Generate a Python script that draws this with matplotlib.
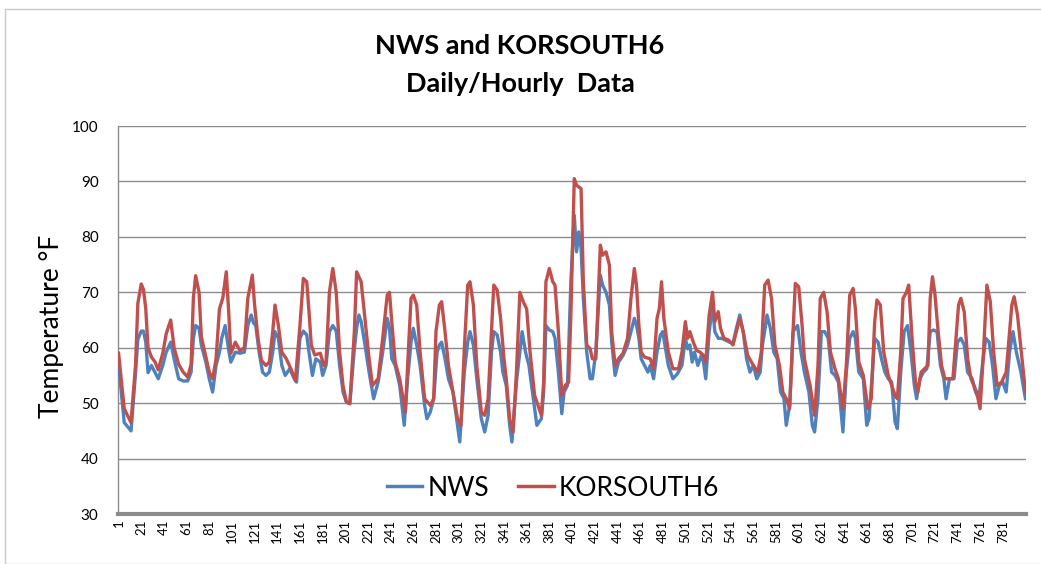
import matplotlib
matplotlib.use("Agg")
import matplotlib.pyplot as plt
from matplotlib.patches import Rectangle

# ---------------- data ----------------
n_categories = 801
tick_labels = [str(v) for v in range(1, 782, 20)]
y_ticks = [30, 40, 50, 60, 70, 80, 90, 100]

kor_hours = [1, 6, 12, 16, 18, 21, 23, 25, 27, 30, 33, 36, 40, 43, 47, 50, 54, 58, 62, 65,
             67, 69, 72, 74, 78, 81, 84, 87, 90, 93, 96, 98, 100, 104, 108, 112,
             115, 119, 121, 124, 127, 131, 134, 137, 139, 142, 145, 149, 153, 157, 161, 164,
             167, 169, 171, 174, 179, 182, 184, 187, 190, 193, 196, 199, 202, 205, 209, 211,
             215, 218, 222, 225, 230, 234, 238, 240, 242, 245, 249, 254, 256, 259, 261, 264,
             267, 271, 276, 279, 281, 284, 286, 289, 292, 296, 300, 303, 306, 309, 311, 314,
             317, 321, 324, 327, 330, 332, 335, 338, 341, 343, 346, 349, 352, 355, 358, 361,
             364, 368, 371, 374, 376, 378, 381, 384, 386, 389, 392, 395, 398, 400, 403, 405,
             409, 411, 414, 417, 419, 422, 426, 428, 431, 434, 436, 439, 442, 446, 450, 453,
             456, 458, 460, 462, 465, 470, 473, 476, 478, 480, 482, 486, 490, 495, 498, 501,
             503, 505, 508, 511, 514, 517, 519, 522, 525, 527, 530, 532, 535, 539, 543, 546,
             549, 552, 556, 561, 565, 568, 571, 574, 577, 580, 584, 587, 590, 593, 596, 598,
             601, 604, 606, 611, 615, 618, 620, 623, 626, 629, 633, 636, 640, 643, 646, 649,
             651, 654, 658, 662, 665, 668, 670, 673, 676, 680, 683, 686, 688, 691, 693, 696,
             698, 701, 704, 706, 709, 712, 715, 717, 719, 721, 724, 727, 730, 733, 737, 742,
             744, 747, 750, 753, 758, 761, 764, 767, 770, 773, 776, 780, 784, 789, 791, 794,
             798, 801]
kor_temps = [59, 49, 46.5, 57, 68, 71.5, 70.5, 67, 60, 58.3, 57.5, 56, 59, 62.5, 65, 60, 57, 55.6, 54.7, 57,
             69, 73, 70, 62, 58.3, 55.6, 54.4, 58, 67, 69, 73.7, 67, 59, 61, 59.5, 60,
             68.9, 73.1, 67.7, 61.7, 57.7, 56.8, 57.4, 62.9, 67.7, 64, 59.2, 58, 56.2, 54.1, 64, 72.5,
             71.9, 66.5, 60.5, 58.7, 59, 56.8, 57.4, 70, 74.3, 70, 59.2, 53.2, 50.2, 49.9, 62.9, 73.7,
             71.9, 65.9, 58, 53.2, 54.4, 61.7, 69.5, 70, 64.7, 57.4, 54.4, 48.4, 56.8, 68.9, 69.5, 67.7,
             59.2, 50.8, 49.6, 50.8, 62.9, 67.7, 68.3, 62.9, 56.8, 52, 47.2, 46, 59.8, 71.3, 71.9, 67.7,
             56.8, 48.4, 47.8, 50.8, 62.9, 71.3, 70.4, 65.3, 58, 54.4, 47.2, 44.8, 55.6, 70, 68.3, 67,
             59.2, 51.4, 49.6, 47.8, 53.8, 71.9, 74.3, 71.9, 71.3, 62.9, 51.4, 53.2, 53.8, 65.9, 90.5, 89.3,
             88.7, 71.9, 60.5, 59.8, 58, 58, 78.5, 76.7, 77.3, 74.9, 62.9, 56.8, 58, 59, 61.7, 68.9,
             74.3, 71, 64, 59.2, 58.3, 58, 56.2, 65.3, 67, 71.9, 65.3, 59.2, 56.2, 56.2, 59.2, 64.7,
             61.7, 62.9, 61, 59.5, 59.2, 58.6, 57.4, 65.9, 70, 64.7, 66.5, 63.5, 61.7, 61.4, 60.5, 62.9,
             65.3, 62.9, 58.6, 56.8, 55.6, 59.2, 71.3, 72.2, 68.9, 60.5, 56.8, 52, 50.8, 49, 62.9, 71.6,
             71, 64, 58, 53.2, 47.8, 56.8, 68.9, 70, 66.5, 59.2, 56.2, 54.4, 49, 56.8, 69.5, 70.7,
             67, 57.4, 55, 49, 50.8, 64.7, 68.6, 67.7, 59.2, 55, 53.2, 51.4, 50.8, 59.2, 68.9, 70,
             71.3, 61.7, 53.8, 52, 55.6, 56.2, 56.8, 68.9, 72.8, 70, 62.9, 56.8, 54.4, 54.4, 54.4, 67.7,
             68.9, 66.5, 58, 54.4, 52, 49, 59.2, 71.3, 68.3, 59.2, 53.2, 53.8, 55.6, 67.7, 69.2, 65.9,
             58, 52]

nws_hours = [1, 6, 12, 16, 18, 21, 23, 25, 27, 30, 33, 36, 40, 43, 47, 50, 54, 58, 62, 65,
             67, 69, 72, 74, 78, 81, 84, 87, 90, 92, 95, 98, 100, 104, 108, 112,
             115, 118, 120, 122, 125, 128, 131, 134, 137, 139, 142, 145, 148, 152, 156, 158,
             161, 164, 167, 169, 172, 175, 179, 181, 184, 187, 190, 193, 196, 199, 202, 205,
             209, 211, 213, 215, 218, 222, 226, 230, 234, 238, 240, 242, 245, 249, 253, 256,
             259, 261, 264, 267, 271, 273, 276, 279, 282, 284, 286, 289, 292, 296, 300, 302,
             306, 309, 311, 314, 317, 321, 324, 327, 330, 332, 335, 338, 340, 343, 346, 348,
             352, 355, 357, 360, 363, 368, 370, 374, 376, 378, 381, 384, 386, 389, 392, 394,
             397, 400, 403, 405, 407, 409, 411, 414, 417, 419, 422, 426, 428, 431, 434, 436,
             439, 442, 446, 450, 453, 456, 458, 460, 462, 465, 468, 470, 473, 476, 479, 481,
             483, 486, 490, 494, 498, 501, 503, 505, 507, 509, 512, 515, 517, 519, 522, 525,
             527, 530, 533, 536, 540, 543, 546, 549, 552, 555, 558, 561, 564, 567, 569, 571,
             573, 576, 579, 582, 585, 588, 590, 593, 596, 598, 600, 603, 606, 610, 613, 615,
             618, 621, 624, 627, 630, 633, 636, 640, 643, 646, 649, 651, 654, 658, 661, 663,
             666, 668, 671, 674, 677, 680, 683, 686, 688, 691, 694, 697, 700, 703, 705, 708,
             711, 714, 717, 720, 723, 726, 729, 731, 734, 738, 741, 744, 747, 750, 754, 757,
             760, 763, 766, 769, 772, 775, 778, 781, 784, 787, 790, 793, 797, 801]
nws_temps = [57, 46.5, 45, 55.5, 61.5, 63, 63, 61, 55.5, 56.8, 55.6, 54.4, 56.8, 59.2, 61, 58, 54.4, 54, 54, 55.6,
             61.7, 64, 63.5, 60.5, 57.4, 54.4, 52, 56.8, 59.2, 61.7, 64, 59.8, 57.4, 59.2, 59, 59.2,
             64, 65.9, 64.5, 64, 59.2, 55.6, 55, 55.6, 59.2, 62.9, 61.7, 56.8, 55, 56.2, 54.4, 53.8,
             61.7, 63, 62.3, 59.2, 55, 58, 57.4, 55, 56.8, 62.9, 64, 63, 56.8, 52, 50.2, 49.9,
             59.8, 63.5, 65.9, 64.7, 61, 55.6, 50.8, 53.8, 59.2, 65.3, 63.5, 58, 56.8, 53.2, 46, 54.4,
             61, 63.5, 60.5, 56.8, 49.6, 47.2, 48.4, 50.8, 59.2, 60.5, 61, 58, 54.4, 52, 46, 43,
             55.6, 61, 62.9, 60.5, 54.4, 47.2, 44.8, 47.8, 59.2, 62.9, 62.3, 59.2, 55.6, 53.2, 46, 43,
             53.8, 59.2, 62.9, 59.2, 56.8, 49, 46, 47.2, 52, 64, 63.2, 62.9, 61.7, 55.6, 48.1, 52,
             53.2, 71.9, 83.9, 77.3, 80.9, 77.9, 68.9, 59.2, 54.4, 54.4, 59.2, 73.1, 71.3, 70, 67.7, 61,
             55, 57.4, 58.6, 60.5, 62.9, 65.3, 64, 61.7, 58, 56.8, 55.6, 56.8, 54.4, 59.2, 62.3, 62.9,
             60.5, 56.8, 54.4, 55.3, 56.8, 61.7, 59.8, 60.5, 57.4, 59.2, 56.8, 58.6, 57.4, 54.4, 62.9, 67.7,
             62.9, 61.7, 61.7, 61.4, 61, 60.8, 63.5, 65.9, 62.9, 58, 55.6, 56.8, 54.4, 55.6, 60.5, 63,
             65.9, 63.5, 59.2, 58, 52, 50.8, 46, 49.6, 62.9, 63.5, 64, 59.2, 55.6, 52, 46, 44.8,
             50.8, 62.9, 62.9, 61.7, 55.6, 55, 53.8, 44.8, 55.6, 61.7, 62.9, 61.7, 55.6, 54.4, 46, 47.2,
             55.6, 61.7, 61, 58, 55.6, 54.4, 53.8, 46.6, 45.4, 55.6, 62.9, 64, 59.2, 53.2, 50.8, 54.4,
             55.6, 56.2, 62.9, 63.2, 62.9, 56.8, 54.4, 50.8, 54.4, 54.4, 61, 61.7, 60.5, 55.6, 54.4, 52,
             50.8, 56.8, 61.7, 61, 56.8, 50.8, 53.2, 53.8, 52, 59.2, 62.9, 59.2, 55.6, 50.8]

series_names = ["NWS", "KORSOUTH6"]
title_text = "NWS and KORSOUTH6\nDaily/Hourly  Data"
y_label = "Temperature °F"

# ---------------- figure ----------------
FONT = ["Lato", "DejaVu Sans"]
plt.rcParams["font.family"] = FONT

fig = plt.figure(figsize=(10.41, 5.64), dpi=100)
fig.patch.set_facecolor("white")

# chart-area border
fig.patches.append(Rectangle((5 / 1041, 0.0), 1.2, 1 - 9 / 564, transform=fig.transFigure,
                             fill=False, edgecolor="#c8c8c8", linewidth=1.0))

ax = fig.add_axes([118 / 1041, 1 - 514 / 564, (1026 - 118) / 1041, (514 - 126) / 564])

blue = "#4F81BD"
red = "#C0504D"
ax.plot(nws_hours, nws_temps, color=blue, linewidth=2.4, label=series_names[0], zorder=3)
ax.plot(kor_hours, kor_temps, color=red, linewidth=2.4, label=series_names[1], zorder=4)

ax.set_xlim(0.5, n_categories + 0.5)
ax.set_ylim(30, 100)
ax.set_yticks(y_ticks)
ax.set_yticklabels([str(v) for v in y_ticks], fontsize=11)
ax.yaxis.grid(True, color="#8c8c8c", linewidth=1.0)
ax.set_axisbelow(True)

tick_pos = list(range(1, 782, 20))
ax.set_xticks(tick_pos)
ax.set_xticklabels(tick_labels, rotation=90, fontsize=9.5)
ax.tick_params(axis="x", length=0, pad=4)
ax.tick_params(axis="y", length=0, pad=14)

for s in ["top", "right"]:
    ax.spines[s].set_visible(False)
ax.spines["left"].set_color("#8c8c8c")
ax.spines["left"].set_linewidth(1.0)
ax.spines["bottom"].set_color("#8c8c8c")
ax.spines["bottom"].set_linewidth(3.0)

fig.text(52 / 1041, 1 - 326 / 564, y_label, rotation=90, ha="center", va="center",
         fontsize=19)
fig.text(520 / 1041, 1 - 65 / 564, title_text, ha="center", va="center",
         fontsize=19.5, fontweight="bold", linespacing=1.75)

leg = ax.legend(loc="center", bbox_to_anchor=(0.479, 0.067), ncol=2, frameon=False,
                fontsize=19, handlelength=1.35, handletextpad=0.2, columnspacing=1.1)
for line in leg.get_lines():
    line.set_linewidth(2.5)

fig.savefig("out.png", dpi=100, facecolor="white")
